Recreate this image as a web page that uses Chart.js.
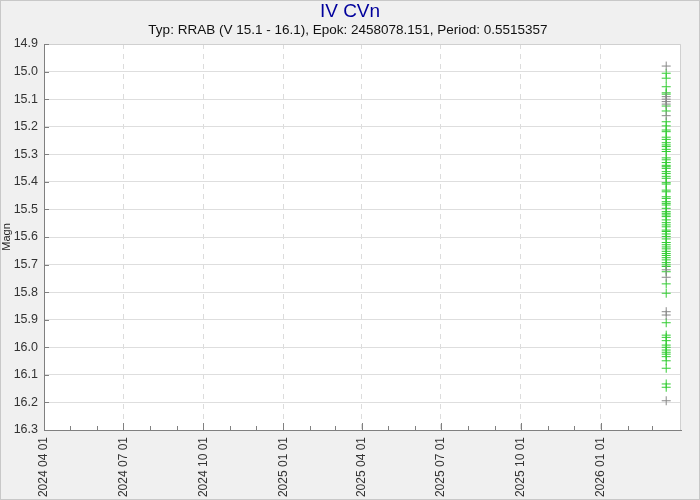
<!DOCTYPE html>
<html>
<head>
<meta charset="utf-8">
<script src="https://cdn.jsdelivr.net/npm/chart.js@4"></script>
<style>
  body { margin: 0; background: #f0f0f0; }
  #wrap { width: 700px; height: 500px; }
</style>
</head>
<body>
<div id="wrap"><canvas id="chart" width="700" height="500"></canvas></div>
<script>
// Light curve data (V magnitudes), all from one night
const starName = "IV CVn";
const starInfo = "Typ: RRAB (V 15.1 - 16.1), Epok: 2458078.151, Period: 0.5515357";
const obsDate = "2026-03-17";
const magGreen = [15.006, 15.024, 15.055, 15.077, 15.082, 15.125, 15.143, 15.182, 15.197, 15.212,
    15.218, 15.238, 15.246, 15.258, 15.266, 15.272, 15.282, 15.29, 15.313, 15.32, 15.33, 15.34,
    15.345, 15.351, 15.363, 15.37, 15.38, 15.387, 15.403, 15.408, 15.43, 15.436, 15.454, 15.46,
    15.472, 15.478, 15.484, 15.496, 15.508, 15.514, 15.52, 15.526, 15.538, 15.548, 15.556, 15.563,
    15.575, 15.58, 15.589, 15.598, 15.607, 15.62, 15.628, 15.636, 15.643, 15.652, 15.66, 15.667,
    15.675, 15.683, 15.693, 15.701, 15.707, 15.726, 15.77, 15.804, 15.911, 15.956, 15.964, 15.976,
    15.992, 16.0, 16.01, 16.018, 16.025, 16.034, 16.049, 16.076, 16.133, 16.145];
const magGray = [14.98, 15.091, 15.10, 15.109, 15.118, 15.16, 15.719, 15.746, 15.871, 15.883, 16.194];
const axisStart = "2024-04-01";
const axisEnd = "2026-04-03";
const lastTick = "2026-03-01";

const day = s => Date.UTC(+s.slice(0, 4), +s.slice(5, 7) - 1, +s.slice(8, 10)) / 86400000;
const pad2 = n => (n < 10 ? "0" : "") + n;

// monthly ticks, labels only every quarter
function monthTicks() {
    const out = [];
    let y = +axisStart.slice(0, 4), m = +axisStart.slice(5, 7);
    while (true) {
        const s = y + "-" + pad2(m) + "-01";
        if (day(s) > day(lastTick)) break;
        out.push({ value: day(s), label: y + " " + pad2(m) + " 01", major: (m - 1) % 3 === 0 });
        m++;
        if (m > 12) { m = 1; y++; }
    }
    return out;
}
const ticksX = monthTicks();

// frame, white plot area and inward tick marks
const framePlugin = {
    id: 'frame',
    beforeDraw(chart) {
        const c = chart.ctx, a = chart.chartArea;
        c.save();
        c.fillStyle = '#f0f0f0';
        c.fillRect(0, 0, chart.width, chart.height);
        c.strokeStyle = '#c8c8c8';
        c.lineWidth = 1;
        c.strokeRect(0.5, 0.5, chart.width - 1, chart.height - 1);
        c.fillStyle = '#ffffff';
        c.fillRect(a.left, a.top, a.right - a.left, a.bottom - a.top);
        c.restore();
    },
    afterDatasetsDraw(chart) {
        const c = chart.ctx, a = chart.chartArea;
        c.save();
        c.strokeStyle = '#d0d0d0';
        c.lineWidth = 1;
        c.beginPath();
        c.moveTo(a.left, a.top + 0.5); c.lineTo(a.right - 0.5, a.top + 0.5); c.lineTo(a.right - 0.5, a.bottom);
        c.stroke();
        c.strokeStyle = '#808080';
        c.beginPath();
        chart.scales.x.ticks.forEach(t => {
            const px = Math.round(chart.scales.x.getPixelForValue(t.value)) + 0.5;
            const len = t.major ? 7 : 4;
            c.moveTo(px, a.bottom); c.lineTo(px, a.bottom - len);
        });
        chart.scales.y.ticks.forEach(t => {
            const py = Math.round(chart.scales.y.getPixelForValue(t.value)) + 0.5;
            c.moveTo(a.left, py); c.lineTo(a.left + 5, py);
        });
        c.stroke();
        c.restore();
    }
};

const ctx = document.getElementById('chart').getContext('2d');
const chart = new Chart(ctx, {
    type: 'scatter',
    data: {
        datasets: [{
            label: 'other',
            data: magGray.map(v => ({ x: day(obsDate), y: v })),
            pointStyle: 'cross',
            radius: 4.5,
            borderWidth: 1,
            borderColor: '#888888',
            backgroundColor: '#888888'
        }, {
            label: 'V',
            data: magGreen.map(v => ({ x: day(obsDate), y: v })),
            pointStyle: 'cross',
            radius: 4.5,
            borderWidth: 1,
            borderColor: '#33cc33',
            backgroundColor: '#33cc33'
        }]
    },
    options: {
        responsive: false,
        animation: false,
        layout: { padding: { top: 44, right: 19, bottom: 0, left: 0 } },
        plugins: {
            legend: { display: false },
            tooltip: { enabled: false },
            title: { display: false },
            subtitle: { display: false }
        },
        scales: {
            x: {
                type: 'linear',
                min: day(axisStart),
                max: day(axisEnd),
                afterBuildTicks: scale => { scale.ticks = ticksX.map(t => ({ value: t.value, major: t.major })); },
                afterFit: scale => { scale.height = 70; },
                ticks: {
                    autoSkip: false,
                    minRotation: 90,
                    maxRotation: 90,
                    padding: 7,
                    color: '#333',
                    font: { family: 'Liberation Sans', size: 12 },
                    callback: (v) => {
                        const t = ticksX.find(k => k.value === v);
                        return t && t.major ? t.label : '';
                    }
                },
                grid: {
                    drawTicks: false,
                    color: c => (c.tick && c.tick.major ? '#dcdcdc' : 'rgba(0,0,0,0)')
                },
                border: { color: '#808080', dash: [5, 5], dashOffset: 0 }
            },
            y: {
                reverse: true,
                min: 14.9,
                max: 16.3,
                afterFit: scale => { scale.width = 44; },
                ticks: {
                    stepSize: 0.1,
                    padding: 6,
                    color: '#333',
                    font: { family: 'Liberation Sans', size: 12.5 },
                    callback: v => v.toFixed(1)
                },
                grid: { drawTicks: false, color: '#dedede' },
                border: { color: '#808080' },
                title: {
                    display: true,
                    text: 'Magn',
                    color: '#222',
                    padding: 0,
                    font: { family: 'Liberation Sans', size: 11 }
                }
            }
        }
    },
    plugins: [framePlugin, {
        id: 'titles',
        afterDraw(chart) {
            const c = chart.ctx;
            c.save();
            c.textAlign = 'center';
            c.textBaseline = 'middle';
            c.fillStyle = '#00009c';
            c.font = '19px "Liberation Sans"';
            c.fillText(starName, 350, 12);
            c.fillStyle = '#111';
            c.font = '13.5px "Liberation Sans"';
            c.fillText(starInfo, 348, 30);
            c.restore();
        }
    }]
});
</script>
</body>
</html>
